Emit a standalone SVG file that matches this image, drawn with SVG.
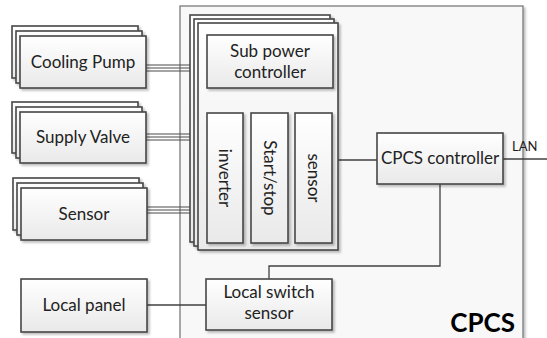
<svg xmlns="http://www.w3.org/2000/svg" width="547" height="338" viewBox="0 0 547 338">
<defs>
<linearGradient id="g" x1="0" y1="0" x2="0" y2="1">
<stop offset="0" stop-color="#ffffff"/>
<stop offset="1" stop-color="#e9e9e9"/>
</linearGradient>
<filter id="sh" x="-10%" y="-10%" width="130%" height="130%">
<feDropShadow dx="2" dy="2" stdDeviation="1.2" flood-color="#000" flood-opacity="0.25"/>
</filter>
</defs>
<style>
.box{fill:url(#g);stroke:#474747;stroke-width:1.6;filter:url(#sh)}
.t{font-family:Lato,"Open Sans","Liberation Sans",sans-serif;font-size:17px;fill:#222;text-anchor:middle}
.ln{fill:none;stroke:#404040;stroke-width:1.3}
.tl{fill:none;stroke:#4a4a4a;stroke-width:1.2}
</style>
<rect width="547" height="338" fill="#ffffff"/>
<g id="cpcs">
<rect x="180" y="6" width="343" height="345" fill="#f8f8f8" stroke="#7a7a7a" stroke-width="1.3" filter="url(#sh)"/>
<text x="515" y="332" style="font-family:Lato,'Open Sans','Liberation Sans',sans-serif;font-size:26px;font-weight:bold;fill:#000;text-anchor:end">CPCS</text>
</g>
<g id="connectors">
<path class="tl" d="M146 65H191M146 68H191M146 71H191"/>
<path class="tl" d="M146 134H191M146 137H191M146 140H191"/>
<path class="tl" d="M146 207H191M146 210H191M146 213H191"/>
<path class="ln" d="M269 88V92H224V113M269 92V113M269 110H314V113"/>
<path class="ln" d="M338 160H377"/>
<path class="ln" d="M503 159H547"/>
<path class="ln" d="M440 184V266H269V279"/>
<path class="ln" d="M146 305H206"/>
</g>
<g id="cooling-pump">
<rect class="box" x="12" y="26" width="126" height="52"/>
<rect class="box" x="16" y="31" width="126" height="52"/>
<rect class="box" x="20" y="36" width="126" height="52"/>
<text class="t" x="83" y="68">Cooling Pump</text>
</g>
<g id="supply-valve">
<rect class="box" x="12" y="102" width="126" height="51"/>
<rect class="box" x="16" y="107" width="126" height="51"/>
<rect class="box" x="20" y="112" width="126" height="51"/>
<text class="t" x="83" y="143">Supply Valve</text>
</g>
<g id="sensor-node">
<rect class="box" x="13" y="178" width="126" height="52"/>
<rect class="box" x="17" y="183" width="126" height="52"/>
<rect class="box" x="21" y="188" width="126" height="52"/>
<text class="t" x="84" y="220">Sensor</text>
</g>
<g id="local-panel">
<rect class="box" x="21" y="279" width="126" height="53"/>
<text class="t" x="84" y="311">Local panel</text>
</g>
<g id="inner-stack">
<rect class="box" x="190" y="15" width="140" height="227"/>
<rect class="box" x="194" y="19" width="140" height="227"/>
<rect class="box" x="198" y="23" width="140" height="227"/>
</g>
<g id="sub-power-controller">
<rect class="box" x="207" y="35" width="126" height="53"/>
<text class="t" x="270" y="57">Sub power</text>
<text class="t" x="270" y="78">controller</text>
</g>
<g id="inverter">
<rect class="box" x="207" y="113" width="36" height="130"/>
<text class="t" transform="translate(219 178) rotate(90)">inverter</text>
</g>
<g id="start-stop">
<rect class="box" x="251" y="113" width="37" height="130"/>
<text class="t" transform="translate(263.5 178) rotate(90)">Start/stop</text>
</g>
<g id="sensor-inner">
<rect class="box" x="295" y="113" width="37" height="130"/>
<text class="t" transform="translate(307.5 178) rotate(90)">sensor</text>
</g>
<g id="cpcs-controller">
<rect class="box" x="377" y="133" width="126" height="51"/>
<text class="t" x="440" y="164">CPCS controller</text>
</g>
<g id="lan">
<text x="512" y="151" style="font-family:Lato,'Open Sans','Liberation Sans',sans-serif;font-size:13px;fill:#222">LAN</text>
</g>
<g id="local-switch-sensor">
<rect class="box" x="206" y="279" width="126" height="51"/>
<text class="t" x="269" y="298">Local switch</text>
<text class="t" x="269" y="319">sensor</text>
</g>
</svg>
